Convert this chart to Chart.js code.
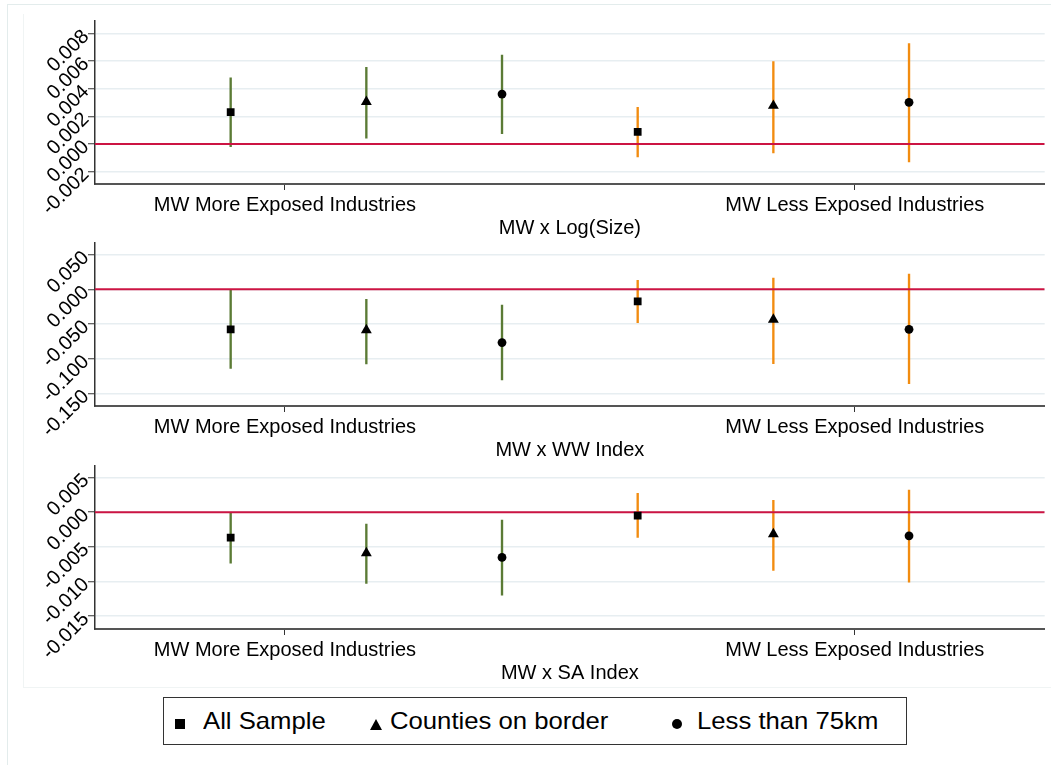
<!DOCTYPE html>
<html>
<head>
<meta charset="utf-8">
<script src="https://cdn.jsdelivr.net/npm/chart.js@4.4.1/dist/chart.umd.min.js"></script>
<style>
  html, body { margin: 0; padding: 0; background: #ffffff; }
  body { width: 1051px; height: 765px; position: relative; overflow: hidden;
         font-family: "Liberation Sans", Arial, sans-serif; }
  .frame { position: absolute; left: 7px; top: 4px; width: 1200px; height: 900px;
           border-left: 1px solid #e3ecec; border-top: 1px solid #e3ecec; }
  .inner { position: absolute; left: 23px; top: 14px; width: 1200px; height: 673px;
           border-left: 1px solid #f0f4f4; border-bottom: 1px solid #f0f4f4; }
  .panel { position: absolute; left: 0; width: 1051px; height: 236px; }
  .legend-box { position: absolute; left: 163px; top: 697px; width: 744px; height: 48px;
                border: 1.5px solid #333; box-sizing: border-box; }
  .mk { position: absolute; background: #000; }
  .lt { position: absolute; font-size: 24px; line-height: 24px; color: #000;
        white-space: nowrap; transform: scaleX(1.07); transform-origin: left center; }
</style>
</head>
<body>
<div class="frame"></div>
<div class="inner"></div>
<div class="panel" style="top:6px"><canvas id="c1" width="1051" height="236"></canvas></div>
<div class="panel" style="top:228px"><canvas id="c2" width="1051" height="236"></canvas></div>
<div class="panel" style="top:451px"><canvas id="c3" width="1051" height="236"></canvas></div>
<div class="legend-box"></div>
<div id="legend"></div>
<script>
// ---------- data ----------
const seriesNames = ['All Sample', 'Counties on border', 'Less than 75km'];
const groupLabels = ['MW More Exposed Industries', 'MW Less Exposed Industries'];
const groupTickPos = [1.4, 5.6];
const slotPos = [1, 2, 3, 4, 5, 6];          // estimate slots
const slotSeries = [0, 1, 2, 0, 1, 2];       // which series each slot belongs to
const slotGroup = [0, 0, 0, 1, 1, 1];        // 0 = more exposed, 1 = less exposed

// Panel 1: MW x Log(Size)
const sizeCoef = [0.00231, 0.00305, 0.00361, 0.00087, 0.00277, 0.00301];
const sizeLo   = [-0.00020, 0.00041, 0.00074, -0.00094, -0.00065, -0.00130];
const sizeHi   = [0.00479, 0.00554, 0.00643, 0.00265, 0.00597, 0.00727];
const sizeTicks = [-0.002, 0.000, 0.002, 0.004, 0.006, 0.008];
const sizeTickLabels = ['-0.002', '0.000', '0.002', '0.004', '0.006', '0.008'];

// Panel 2: MW x WW Index
const wwCoef = [-0.0576, -0.0585, -0.0767, -0.0173, -0.0436, -0.0576];
const wwLo   = [-0.1140, -0.1075, -0.1305, -0.0480, -0.1070, -0.1360];
const wwHi   = [0.0000, -0.0144, -0.0226, 0.0130, 0.0163, 0.0220];
const wwTicks = [-0.150, -0.100, -0.050, 0.000, 0.050];
const wwTickLabels = ['-0.150', '-0.100', '-0.050', '0.000', '0.050'];

// Panel 3: MW x SA Index
const saCoef = [-0.00366, -0.00590, -0.00654, -0.00049, -0.00317, -0.00341];
const saLo   = [-0.00735, -0.01030, -0.01200, -0.00366, -0.00840, -0.01010];
const saHi   = [-0.00010, -0.00173, -0.00115, 0.00274, 0.00173, 0.00321];
const saTicks = [-0.015, -0.010, -0.005, 0.000, 0.005];
const saTickLabels = ['-0.015', '-0.010', '-0.005', '0.000', '0.005'];

// ---------- style ----------
const FONT = '"Liberation Sans", Arial, sans-serif';
const groupColors = ['#5b7b35', '#f28c10'];
const zeroColor = '#cc1443';
const pointStyles = ['rect', 'triangle', 'circle'];
const pointRadii = [5.5, 6.3, 4.4];

function makePanel(id, coef, lo, hi, ticks, tickLabels, yMin, yMax, title) {
  const datasets = [];
  // confidence intervals as floating bars
  datasets.push({
    type: 'bar',
    data: slotPos.map((x, i) => ({ x: x, y: [lo[i], hi[i]] })),
    backgroundColor: slotGroup.map(g => groupColors[g]),
    borderWidth: 0,
    barThickness: 1.7,
    grouped: false,
    order: 3
  });
  // zero reference line
  datasets.push({
    type: 'line',
    data: [{ x: 0, y: 0 }, { x: 7, y: 0 }],
    borderColor: zeroColor,
    borderWidth: 2,
    pointRadius: 0,
    order: 2
  });
  // point estimates, one dataset per series
  seriesNames.forEach((name, s) => {
    const pts = [];
    slotPos.forEach((x, i) => { if (slotSeries[i] === s) pts.push({ x: x, y: coef[i] }); });
    datasets.push({
      type: 'scatter',
      label: name,
      data: pts,
      pointStyle: pointStyles[s],
      pointRadius: pointRadii[s],
      backgroundColor: '#000',
      borderColor: '#000',
      borderWidth: 0,
      order: 1
    });
  });

  return new Chart(document.getElementById(id), {
    type: 'scatter',
    data: { datasets },
    options: {
      responsive: false,
      animation: false,
      devicePixelRatio: 1,
      layout: { padding: { top: 15, left: 0, right: 4, bottom: 0 } },
      plugins: { legend: { display: false }, tooltip: { enabled: false } },
      scales: {
        x: {
          type: 'linear', min: 0, max: 7, offset: false,
          afterBuildTicks: s => { s.ticks = groupTickPos.map(v => ({ value: v })); },
          afterFit: s => { s.height = 58; },
          ticks: {
            callback: (v, i) => groupLabels[i],
            autoSkip: false, maxRotation: 0, minRotation: 0,
            font: { family: FONT, size: 20 }, color: '#000', padding: 3
          },
          grid: { offset: false, drawOnChartArea: false, drawTicks: true, tickLength: 6,
                  tickColor: '#333', tickWidth: 1 },
          border: { display: true, color: '#555', width: 2 },
          title: { display: true, text: title, font: { family: FONT, size: 20 }, color: '#000',
                   padding: { top: 0, bottom: 2 } }
        },
        y: {
          type: 'linear', min: yMin, max: yMax,
          afterBuildTicks: s => { s.ticks = ticks.map(v => ({ value: v })); },
          afterFit: s => { s.width = 95; },
          ticks: {
            callback: (v, i) => tickLabels[i],
            autoSkip: false, minRotation: 45, maxRotation: 45,
            font: { family: FONT, size: 20 }, color: '#000', padding: 2
          },
          grid: { color: '#e7eef1', lineWidth: 1.5, drawTicks: true, tickLength: 7,
                  tickColor: '#333', tickWidth: 1 },
          border: { display: true, color: '#333', width: 1.5 }
        }
      }
    }
  });
}

makePanel('c1', sizeCoef, sizeLo, sizeHi, sizeTicks, sizeTickLabels, -0.0029, 0.0089, 'MW x Log(Size)');
makePanel('c2', wwCoef, wwLo, wwHi, wwTicks, wwTickLabels, -0.168, 0.0668, 'MW x WW Index');
makePanel('c3', saCoef, saLo, saHi, saTicks, saTickLabels, -0.01687, 0.00667, 'MW x SA Index');

// ---------- legend ----------
const legend = document.getElementById('legend');
const legendMarkX = [175, 370, 672];
const legendTextX = [203, 390, 697];
seriesNames.forEach((name, s) => {
  const m = document.createElement('div');
  if (s === 0) {
    m.className = 'mk';
    m.style.cssText = 'left:' + legendMarkX[s] + 'px;top:719px;width:10px;height:10px;';
  } else if (s === 1) {
    m.style.cssText = 'position:absolute;left:' + legendMarkX[s] + 'px;top:719px;width:0;height:0;' +
      'border-left:6px solid transparent;border-right:6px solid transparent;border-bottom:11px solid #000;';
  } else {
    m.className = 'mk';
    m.style.cssText = 'left:' + legendMarkX[s] + 'px;top:719px;width:10px;height:10px;border-radius:50%;';
  }
  legend.appendChild(m);
  const t = document.createElement('div');
  t.className = 'lt';
  t.style.left = legendTextX[s] + 'px';
  t.style.top = '709px';
  t.textContent = name;
  legend.appendChild(t);
});
</script>
</body>
</html>
